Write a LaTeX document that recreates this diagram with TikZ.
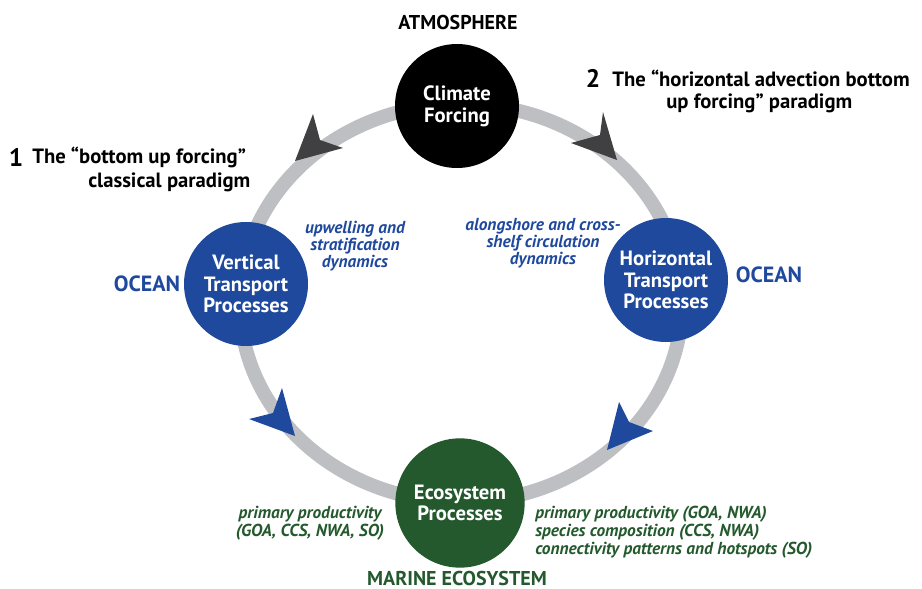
\documentclass[tikz,border=0pt]{standalone}
\usepackage{fontspec}
\setmainfont{PT Sans}
\definecolor{ringgray}{RGB}{190,191,195}
\definecolor{arrowgray}{RGB}{64,64,66}
\definecolor{oceanblue}{RGB}{31,73,157}
\definecolor{ecogreen}{RGB}{35,89,45}
\begin{document}
\begin{tikzpicture}[x=0.75pt,y=-0.75pt,
  proc/.style={circle, minimum size=93pt, inner sep=0pt, text=white, align=center,
    font=\bfseries\fontsize{15.5}{16.3}\selectfont},
  para/.style={font=\bfseries\fontsize{15.5}{16.5}\selectfont, anchor=west, inner sep=0pt},
  num/.style={font=\bfseries\fontsize{19}{19}\selectfont, inner sep=0pt},
  realm/.style={font=\bfseries\fontsize{15}{16}\selectfont, inner sep=0pt},
  note/.style={font=\bfseries\itshape\fontsize{13}{12.6}\selectfont, align=center, inner sep=0pt},
  gnote/.style={font=\bfseries\itshape\fontsize{13}{13.5}\selectfont, inner sep=0pt, text=ecogreen},
  ringline/.style={ringgray, line width=10.5pt},
  headgray/.style={fill=arrowgray},
  headblue/.style={fill=oceanblue}]
\useasboundingbox (0,0) rectangle (922,589);
% ring
\draw[ringline] (461,303) ellipse [x radius=221, y radius=199];
% arrowheads
\fill[headgray] (295,161) -- (313,114) -- (320,140) -- (343,148) -- cycle;
\fill[headgray] (617,160) -- (603,112) -- (600,135) -- (571,143) -- cycle;
\fill[headblue] (295,436) -- (282,388) -- (273,413) -- (249,419) -- cycle;
\fill[headblue] (607,450) -- (619,402) -- (629,422) -- (653,431) -- cycle;
% process circles
\node[proc, fill=black] (cf) at (457,106) {Climate\\Forcing};
\node[proc, fill=oceanblue] (vt) at (246,284) {Vertical\\Transport\\Processes};
\node[proc, fill=oceanblue] (ht) at (666,280) {Horizontal\\Transport\\Processes};
\node[proc, fill=ecogreen, minimum size=97pt] (ep) at (460,503) {Ecosystem\\Processes};
% realms
\node[realm] (atm) at (458,23) {ATMOSPHERE};
\node[realm, text=oceanblue, font=\bfseries\fontsize{16.5}{17}\selectfont] (ocl) at (147,284) {OCEAN};
\node[realm, text=oceanblue, font=\bfseries\fontsize{16.5}{17}\selectfont] (ocr) at (769,275) {OCEAN};
\node[realm, text=ecogreen] (mar) at (457,578) {MARINE ECOSYSTEM};
% paradigms
\node[num] (n1) at (16,157) {1};
\node[para] (p1a) at (32,157) {The “bottom up forcing”};
\node[para] (p1b) at (88,182) {classical paradigm};
\node[num] (n2) at (593,78) {2};
\node[para] (p2a) at (612,78) {The “horizontal advection bottom};
\node[para] (p2b) at (666,103) {up forcing” paradigm};
% notes
\node[note, text=oceanblue] (nv) at (355,246) {upwelling and\\stratification\\dynamics};
\node[note, text=oceanblue] (nh) at (543,243) {alongshore and cross-\\shelf circulation\\dynamics};
\node[gnote, align=center] (ne1) at (310,523) {primary productivity\\(GOA, CCS, NWA, SO)};
\node[gnote, align=left, anchor=west] (ne2) at (535,532) {primary productivity (GOA, NWA)\\species composition (CCS, NWA)\\connectivity patterns and hotspots (SO)};
\end{tikzpicture}
\end{document}
